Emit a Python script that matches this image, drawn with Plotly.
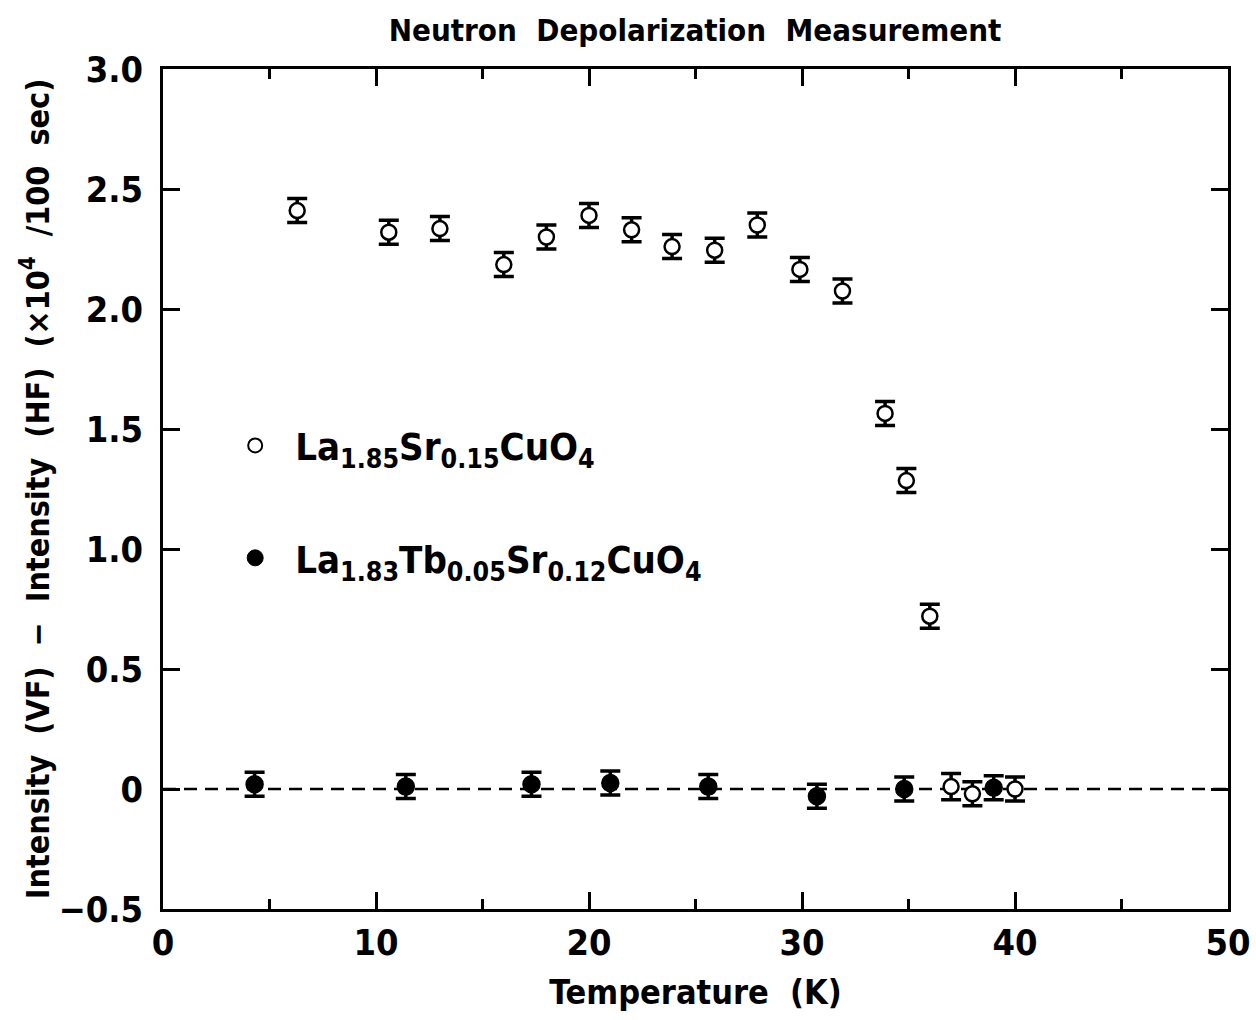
import plotly.graph_objects as go

# Data
T_open = [6.3, 10.6, 13.0, 16.0, 18.0, 20.0, 22.0, 23.9, 25.9, 27.9, 29.9, 31.9, 33.9, 34.9, 36.0, 37.0, 38.0, 40.0]
I_open = [2.41, 2.32, 2.335, 2.185, 2.30, 2.39, 2.33, 2.26, 2.245, 2.35, 2.165, 2.075, 1.565, 1.285, 0.72, 0.01, -0.02, 0.0]
E_open = [0.05, 0.05, 0.05, 0.05, 0.05, 0.05, 0.05, 0.05, 0.05, 0.05, 0.05, 0.05, 0.05, 0.05, 0.05, 0.055, 0.05, 0.05]

T_fill = [4.3, 11.4, 17.3, 21.0, 25.6, 30.7, 34.8, 39.0]
I_fill = [0.02, 0.01, 0.02, 0.025, 0.01, -0.03, 0.0, 0.005]
E_fill = [0.05, 0.05, 0.05, 0.05, 0.05, 0.05, 0.05, 0.05]

x_ticks = [0, 10, 20, 30, 40, 50]
x_minor = [5, 15, 25, 35, 45]
y_ticks = [-0.5, 0, 0.5, 1.0, 1.5, 2.0, 2.5, 3.0]
y_ticktext = ["\u22120.5", "0", "0.5", "1.0", "1.5", "2.0", "2.5", "3.0"]

label_open = "La<sub>1.85</sub>Sr<sub>0.15</sub>CuO<sub>4</sub>"
label_fill = "La<sub>1.83</sub>Tb<sub>0.05</sub>Sr<sub>0.12</sub>CuO<sub>4</sub>"

FONT = "DejaVu Sans Condensed, Liberation Sans Narrow, sans-serif"

fig = go.Figure()

# zero reference line
fig.add_trace(go.Scatter(x=[0, 50], y=[0, 0], mode="lines",
                         line=dict(color="black", width=2.5, dash="13px,8px"),
                         showlegend=False, hoverinfo="skip"))

fig.add_trace(go.Scatter(x=T_fill, y=I_fill, mode="markers",
                         marker=dict(symbol="circle", size=17, color="black",
                                     line=dict(color="black", width=1.5)),
                         error_y=dict(type="data", array=E_fill, color="black",
                                      thickness=3.5, width=10),
                         showlegend=False))

fig.add_trace(go.Scatter(x=T_open, y=I_open, mode="markers",
                         marker=dict(symbol="circle", size=15, color="white",
                                     line=dict(color="black", width=2.5)),
                         error_y=dict(type="data", array=E_open, color="black",
                                      thickness=3.5, width=10),
                         showlegend=False))

# legend entries
fig.add_trace(go.Scatter(x=[None], y=[None], mode="markers", name=label_open,
                         legendgroup="a",
                         marker=dict(symbol="circle", size=14, color="white",
                                     line=dict(color="black", width=2))))
fig.add_trace(go.Scatter(x=[None], y=[None], mode="markers", name=label_fill,
                         legendgroup="b",
                         marker=dict(symbol="circle", size=16, color="black",
                                     line=dict(color="black", width=1))))

axis_common = dict(
    showline=True, linecolor="black", linewidth=2.5, mirror="ticks",
    ticks="inside", tickcolor="black", tickwidth=2.5,
    showgrid=False, zeroline=False, automargin=False,
    ticklabeloverflow="allow",
    tickfont=dict(family=FONT, size=36, color="black", weight="bold"),
)

fig.update_xaxes(range=[0, 50], tickvals=x_ticks, ticklen=17,
                 minor=dict(tickvals=x_minor, ticks="inside", ticklen=10,
                            tickwidth=2.5, tickcolor="black", showgrid=False),
                 title=dict(text="Temperature\u00a0\u00a0(K)",
                            font=dict(family=FONT, size=34, color="black", weight="bold"),
                            standoff=19),
                 **axis_common)
fig.update_yaxes(range=[-0.5, 3.0], tickvals=y_ticks, ticktext=y_ticktext,
                 ticklen=17, ticklabelstandoff=10,
                 title=dict(text="Intensity\u00a0\u00a0(VF)\u00a0\u00a0\u2212\u00a0\u00a0Intensity\u00a0\u00a0(HF)\u00a0\u00a0(\u00d710<sup>4</sup>\u00a0\u00a0/100\u00a0\u00a0sec)",
                            font=dict(family=FONT, size=32, color="black", weight="bold"), standoff=0),
                 **axis_common)

fig.update_layout(
    width=1256, height=1020,
    margin=dict(l=163, r=28, t=69, b=111),
    paper_bgcolor="white", plot_bgcolor="white",
    title=dict(text="Neutron\u00a0\u00a0Depolarization\u00a0\u00a0Measurement", x=695 / 1256, xanchor="center",
               y=1 - 30 / 1020, yanchor="middle",
               font=dict(family=FONT, size=31, color="black", weight="bold")),
    legend=dict(x=0.049, y=0.589, xanchor="left", yanchor="top",
                font=dict(family=FONT, size=38, color="black", weight="bold"),
                bgcolor="rgba(0,0,0,0)", tracegroupgap=60, itemwidth=70),
    showlegend=True,
)

fig.write_html("out.html")
